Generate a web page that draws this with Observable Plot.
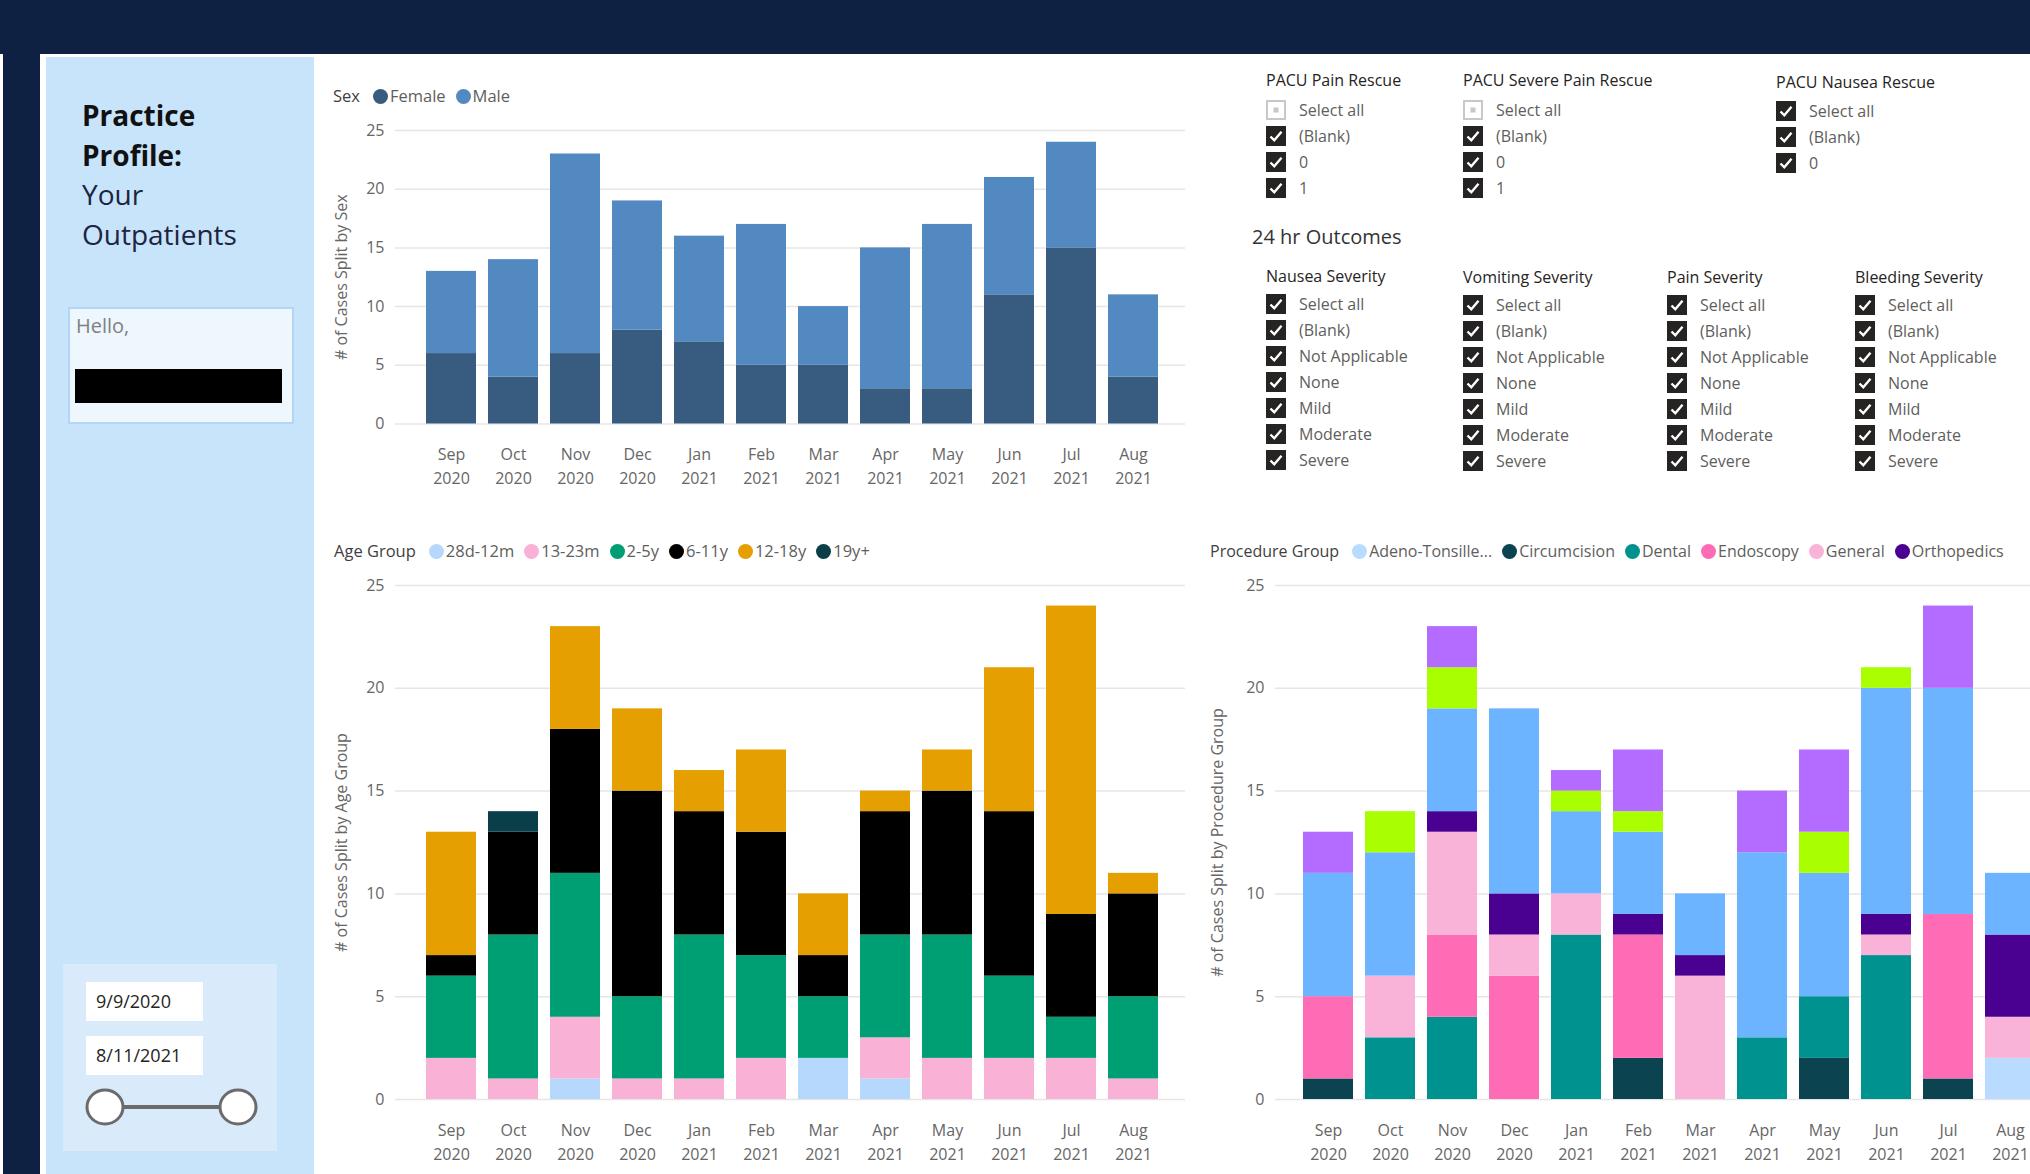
<!DOCTYPE html>
<html>
<head>
<meta charset="utf-8">
<script src="https://cdn.jsdelivr.net/npm/d3@7"></script>
<script src="https://cdn.jsdelivr.net/npm/@observablehq/plot@0.6"></script>
<style>
html,body{margin:0;padding:0;width:2030px;height:1174px;overflow:hidden;background:#fff;font-family:"Open Sans",sans-serif;}
.abs{position:absolute;}
.legend{position:absolute;display:flex;align-items:center;white-space:nowrap;overflow:hidden;font-size:16.5px;line-height:22px;}
.legend .ttl{color:#3f3f3f;margin-right:13px;}
.legend .dot{display:inline-block;width:15px;height:15px;border-radius:50%;flex:none;}
.legend .lab{color:#605e5c;margin-left:2px;margin-right:10px;}
.slhead{position:absolute;font-size:16px;color:#252423;white-space:nowrap;line-height:20px;}
.slitem{position:absolute;font-size:16px;color:#605e5c;white-space:nowrap;line-height:20px;}
.chart{position:absolute;}
</style>
</head>
<body>
<div class="abs" style="left:0;top:0;width:2030px;height:54px;background:#0e2142"></div>
<div class="abs" style="left:3px;top:54px;width:37px;height:1120px;background:#0e2142"></div>
<div class="abs" style="left:46px;top:57px;width:268px;height:1117px;background:#c8e4fb"></div>
<div class="abs" style="left:82px;top:96px;font-size:28px;line-height:39.5px;color:#111;">
  <div style="font-weight:bold">Practice</div>
  <div style="font-weight:bold">Profile:</div>
  <div style="color:#1c2541">Your</div>
  <div style="color:#1c2541">Outpatients</div>
</div>
<div class="abs" style="left:68px;top:307px;width:222px;height:113px;background:#eef6fe;border:2px solid #b3d5f6;"></div>
<div class="abs" style="left:76px;top:312px;font-size:20px;line-height:28px;color:#808080;">Hello,</div>
<div class="abs" style="left:75px;top:369px;width:207px;height:34px;background:#000"></div>
<div class="abs" style="left:63px;top:964px;width:214px;height:187px;background:#d9eafb"></div>
<div class="abs" id="date1" style="left:86px;top:982px;width:117px;height:39px;background:#fff;"></div>
<div class="abs" id="date2" style="left:86px;top:1036px;width:117px;height:39px;background:#fff;"></div>
<svg class="abs" style="left:63px;top:1080px" width="214" height="60">
  <line x1="42" y1="27" x2="175" y2="27" stroke="#6b6b6b" stroke-width="4"/>
  <ellipse cx="42" cy="27" rx="18" ry="17" fill="#fff" stroke="#6b6b6b" stroke-width="3"/>
  <ellipse cx="175" cy="27" rx="18" ry="17" fill="#fff" stroke="#6b6b6b" stroke-width="3"/>
</svg>
<div class="abs" style="left:1252px;top:224px;font-size:20px;line-height:26px;color:#333;white-space:nowrap;">24 hr Outcomes</div>
<div id="root"></div>
<script>
// ---------- data ----------
const months = ["Sep 2020","Oct 2020","Nov 2020","Dec 2020","Jan 2021","Feb 2021","Mar 2021","Apr 2021","May 2021","Jun 2021","Jul 2021","Aug 2021"];
const yTicks = [0, 5, 10, 15, 20, 25];
const dateRange = ["9/9/2020", "8/11/2021"];

const sexCats = ["Female", "Male"];
const sexColors = ["#385b80", "#5289c0"];
const sexFemale = [6, 4, 6, 8, 7, 5, 5, 3, 3, 11, 15, 4];
const sexMale   = [7, 10, 17, 11, 9, 12, 5, 12, 14, 10, 9, 7];

const ageCats = ["28d-12m", "13-23m", "2-5y", "6-11y", "12-18y", "19y+"];
const ageColors = ["#b5d8fc", "#f9b1d6", "#009e73", "#000000", "#e69f00", "#0a3f4a"];
const age28d   = [0, 0, 1, 0, 0, 0, 2, 1, 0, 0, 0, 0];
const age13m   = [2, 1, 3, 1, 1, 2, 0, 2, 2, 2, 2, 1];
const age2y    = [4, 7, 7, 4, 7, 5, 3, 5, 6, 4, 2, 4];
const age6y    = [1, 5, 7, 10, 6, 6, 2, 6, 7, 8, 5, 5];
const age12y   = [6, 0, 5, 4, 2, 4, 3, 1, 2, 7, 15, 1];
const age19y   = [0, 1, 0, 0, 0, 0, 0, 0, 0, 0, 0, 0];

const procCats = ["Adeno-Tonsillectomy", "Circumcision", "Dental", "Endoscopy", "General", "Orthopedics", "Other", "Plastics", "Urology"];
const procColors = ["#b9dbff", "#0b4450", "#00928f", "#ff6cb6", "#f9b3d8", "#4a0090", "#6cb4ff", "#a9ff00", "#b46bff"];
const procAdeno = [0, 0, 0, 0, 0, 0, 0, 0, 0, 0, 0, 2];
const procCirc  = [1, 0, 0, 0, 0, 2, 0, 0, 2, 0, 1, 0];
const procDent  = [0, 3, 4, 0, 8, 0, 0, 3, 3, 7, 0, 0];
const procEndo  = [4, 0, 4, 6, 0, 6, 0, 0, 0, 0, 8, 0];
const procGen   = [0, 3, 5, 2, 2, 0, 6, 0, 0, 1, 0, 2];
const procOrtho = [0, 0, 1, 2, 0, 1, 1, 0, 0, 1, 0, 4];
const procOther = [6, 6, 5, 9, 4, 4, 3, 9, 6, 11, 11, 3];
const procPlast = [0, 2, 2, 0, 1, 1, 0, 0, 2, 1, 0, 0];
const procUro   = [2, 0, 2, 0, 1, 3, 0, 3, 4, 0, 4, 0];

const pacuPain = {title: "PACU Pain Rescue", items: ["Select all", "(Blank)", "0", "1"], checked: [false, true, true, true]};
const pacuSevere = {title: "PACU Severe Pain Rescue", items: ["Select all", "(Blank)", "0", "1"], checked: [false, true, true, true]};
const pacuNausea = {title: "PACU Nausea Rescue", items: ["Select all", "(Blank)", "0"], checked: [true, true, true]};
const severityItems = ["Select all", "(Blank)", "Not Applicable", "None", "Mild", "Moderate", "Severe"];
const nausea = {title: "Nausea Severity", items: severityItems, checked: severityItems.map(() => true)};
const vomiting = {title: "Vomiting Severity", items: severityItems, checked: severityItems.map(() => true)};
const pain = {title: "Pain Severity", items: severityItems, checked: severityItems.map(() => true)};
const bleeding = {title: "Bleeding Severity", items: severityItems, checked: severityItems.map(() => true)};

// ---------- helpers ----------
const root = document.getElementById("root");
document.getElementById("date1").innerHTML = `<div style="padding-left:10px;font-size:18px;line-height:39px;color:#252423">${dateRange[0]}</div>`;
document.getElementById("date2").innerHTML = `<div style="padding-left:10px;font-size:18px;line-height:39px;color:#252423">${dateRange[1]}</div>`;

function legend(title, cats, colors, left, top, width, fontSize) {
  const d = document.createElement("div");
  d.className = "legend";
  d.style.left = left + "px"; d.style.top = top + "px"; d.style.width = width + "px";
  if (fontSize) d.style.fontSize = fontSize + "px";
  let h = `<span class="ttl">${title}</span>`;
  cats.forEach((c, i) => {
    const name = c.length > 16 ? c.slice(0, 14) + "..." : c;
    h += `<span class="dot" style="background:${colors[i]}"></span><span class="lab">${name}</span>`;
  });
  d.innerHTML = h;
  root.appendChild(d);
  // hide entries that do not fit entirely (as the dashboard legend does)
  const dots = d.querySelectorAll(".dot"), labs = d.querySelectorAll(".lab");
  let hide = false;
  dots.forEach((dot, i) => {
    if (!hide && labs[i].offsetLeft + labs[i].offsetWidth - 8 > width) hide = true;
    if (hide) { dot.style.visibility = "hidden"; labs[i].style.visibility = "hidden"; }
  });
}

function slicer(s, left, headTop, firstRow) {
  const h = document.createElement("div");
  h.className = "slhead"; h.style.left = left + "px"; h.style.top = (headTop - 10) + "px";
  h.textContent = s.title; root.appendChild(h);
  s.items.forEach((it, i) => {
    const cy = firstRow + i * 26;
    const box = document.createElementNS("http://www.w3.org/2000/svg", "svg");
    box.setAttribute("width", 20); box.setAttribute("height", 20);
    box.style.position = "absolute"; box.style.left = left + "px"; box.style.top = (cy - 10) + "px";
    box.innerHTML = s.checked[i]
      ? `<rect x="0" y="0" width="20" height="20" fill="#252423"/><path d="M4.5 10.5 L8.3 14.3 L15.5 5.8" fill="none" stroke="#fff" stroke-width="2.4"/>`
      : `<rect x="1" y="1" width="18" height="18" fill="#fff" stroke="#c8c8c8" stroke-width="2"/><rect x="7.5" y="7.5" width="5" height="5" fill="#c8c8c8"/>`;
    root.appendChild(box);
    const t = document.createElement("div");
    t.className = "slitem"; t.style.left = (left + 33) + "px"; t.style.top = (cy - 10) + "px";
    t.textContent = it; root.appendChild(t);
  });
}

function stacked(cats, colors, series, label, o) {
  const data = [];
  cats.forEach((c, i) => months.forEach((m, j) => data.push({month: m, cat: c, value: series[i][j]})));
  const p = Plot.plot({
    width: o.width, height: o.height,
    marginLeft: 75, marginRight: 15, marginTop: 20, marginBottom: 70,
    style: {fontFamily: "'Open Sans', sans-serif", fontSize: "16px", color: "#666", background: "transparent", overflow: "visible"},
    x: {type: "band", domain: months, padding: 0.2, insetLeft: o.insetLeft, insetRight: o.insetRight, label: null},
    y: {domain: [0, 25], label: null},
    color: {domain: cats, range: colors},
    marks: [
      Plot.gridY(yTicks, {stroke: "#e6e6e6", strokeOpacity: 1, strokeWidth: 1.5}),
      Plot.barY(data, {x: "month", y: "value", fill: "cat", order: cats}),
      Plot.axisY(yTicks, {tickSize: 0, tickPadding: 11, fontSize: 16, label: label, labelAnchor: "center", labelArrow: "none", labelOffset: o.labelOffset}),
      Plot.axisX({tickSize: 0, tickPadding: 19, fontSize: 16, lineHeight: 1.5, tickFormat: d => d.replace(" ", "\n")})
    ]
  });
  p.classList.add("chart");
  p.style.left = o.left + "px"; p.style.top = o.top + "px";
  root.appendChild(p);
}

// ---------- charts ----------
legend("Sex", sexCats, sexColors, 333, 85, 300);
stacked(sexCats, sexColors, [sexFemale, sexMale], "# of Cases Split by Sex",
  {left: 320, top: 109.5, width: 880, height: 383.5, insetLeft: 18.2, insetRight: 14.2, labelOffset: 60});

legend("Age Group", ageCats, ageColors, 334, 540, 860);
stacked(ageCats, ageColors, [age28d, age13m, age2y, age6y, age12y, age19y], "# of Cases Split by Age Group",
  {left: 320, top: 565, width: 880, height: 604, insetLeft: 18.2, insetRight: 14.2, labelOffset: 60});

legend("Procedure Group", procCats, procColors, 1210, 540, 815, 16);
stacked(procCats, procColors, [procAdeno, procCirc, procDent, procEndo, procGen, procOrtho, procOther, procPlast, procUro], "# of Cases Split by Procedure Group",
  {left: 1200, top: 565, width: 877, height: 604, insetLeft: 14.7, insetRight: 14.2, labelOffset: 64});

// ---------- slicers ----------
slicer(pacuPain, 1266, 80, 110);
slicer(pacuSevere, 1463, 80, 110);
slicer(pacuNausea, 1776, 82, 111);
slicer(nausea, 1266, 276, 304);
slicer(vomiting, 1463, 277, 305);
slicer(pain, 1667, 277, 305);
slicer(bleeding, 1855, 277, 305);
</script>
</body>
</html>
